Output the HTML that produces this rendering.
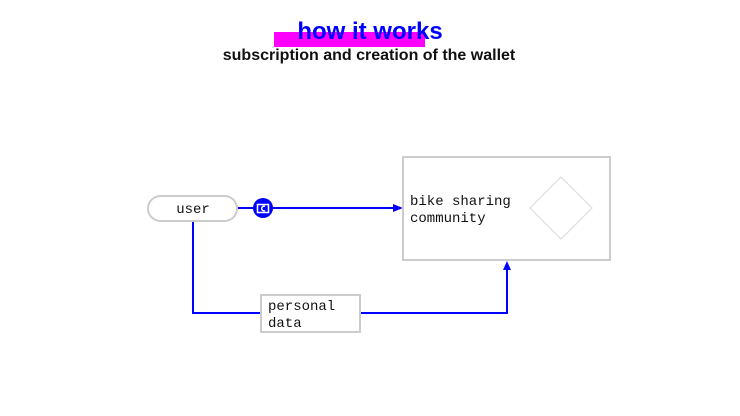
<!DOCTYPE html>
<html>
<head>
<meta charset="utf-8">
<style>
html,body{margin:0;padding:0;background:#fff;}
body{width:740px;height:416px;overflow:hidden;position:relative;}
svg{position:absolute;left:0;top:0;}
</style>
</head>
<body>
<svg width="740" height="416" viewBox="0 0 740 416" xmlns="http://www.w3.org/2000/svg">
  <!-- title -->
  <rect x="274" y="32" width="151" height="15" fill="#ff00ff"/>
  <text x="370" y="39" text-anchor="middle" font-family="Liberation Sans, sans-serif" font-weight="bold" font-size="24" fill="#0000ff">how it works</text>
  <text x="369" y="60" text-anchor="middle" font-family="Liberation Sans, sans-serif" font-weight="bold" font-size="16" fill="#111">subscription and creation of the wallet</text>

  <!-- connectors -->
  <g stroke="#0000ff" stroke-width="2" fill="none">
    <line x1="237" y1="208" x2="396" y2="208"/>
    <polyline points="193,221 193,313 261,313"/>
    <polyline points="361,313 507,313 507,268"/>
  </g>
  <polygon points="403,208 393,204 393,212" fill="#0000ff"/>
  <polygon points="507,261 503,270 511,270" fill="#0000ff"/>

  <!-- token circle -->
  <circle cx="263" cy="208" r="10" fill="#0000ff"/>
  <rect x="257.5" y="204.5" width="11" height="8" fill="none" stroke="#fff" stroke-width="1.5"/>
  <path d="M265 206.3 A2.4 2.4 0 1 0 265 210.7" fill="none" stroke="#fff" stroke-width="1.5"/>

  <!-- user pill -->
  <rect x="148" y="196" width="89" height="25" rx="12.5" fill="#fff" stroke="#cccccc" stroke-width="2"/>
  <text x="193" y="213" text-anchor="middle" font-family="Liberation Mono, monospace" font-size="14" fill="#111">user</text>

  <!-- community box -->
  <rect x="403" y="157" width="207" height="103" fill="#fff" stroke="#cccccc" stroke-width="2"/>
  <text x="410" y="205" font-family="Liberation Mono, monospace" font-size="14" fill="#111">bike sharing</text>
  <text x="410" y="222" font-family="Liberation Mono, monospace" font-size="14" fill="#111">community</text>
  <polygon points="561,177 592,208 561,239 530,208" fill="none" stroke="#dddddd" stroke-width="1.2"/>

  <!-- personal data -->
  <rect x="261" y="295" width="99" height="37" fill="#fff" stroke="#cccccc" stroke-width="2"/>
  <text x="268" y="310" font-family="Liberation Mono, monospace" font-size="14" fill="#111">personal</text>
  <text x="268" y="327" font-family="Liberation Mono, monospace" font-size="14" fill="#111">data</text>
</svg>
</body>
</html>
